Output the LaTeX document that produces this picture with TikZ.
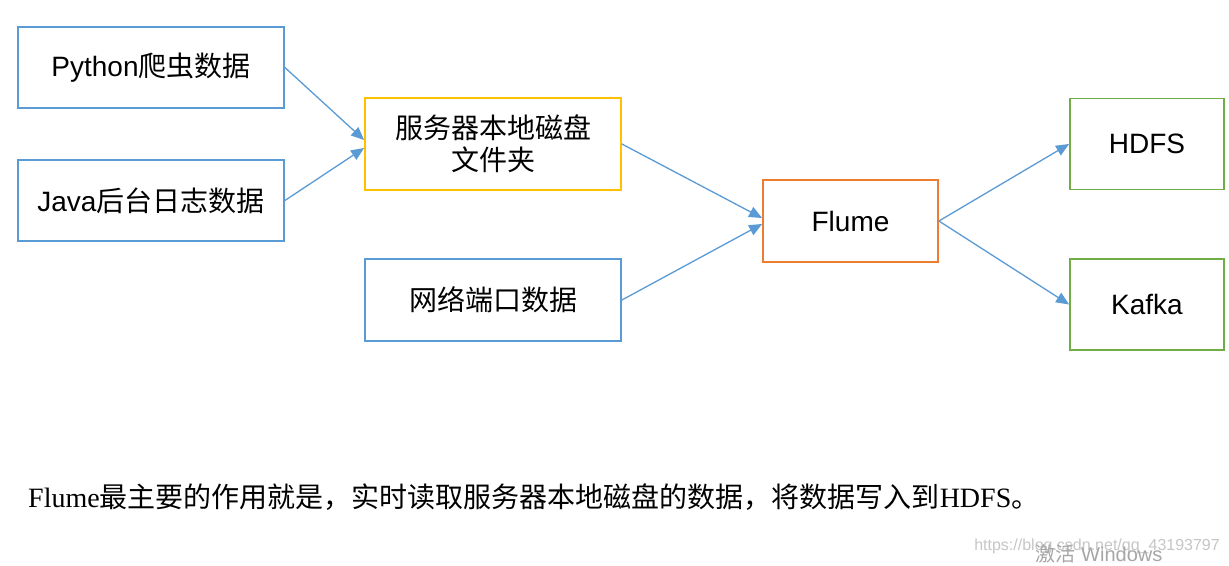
\documentclass[tikz,border=0pt]{standalone}
\usepackage{fontspec}
\setmainfont{Liberation Sans}
\newfontfamily\cjk{Noto Sans CJK SC}
\newfontfamily\serif{Liberation Serif}
\usepackage{xcolor}
\usetikzlibrary{positioning}
\usetikzlibrary{arrows.meta}
\definecolor{boxblue}{RGB}{91,155,213}
\definecolor{boxyellow}{RGB}{255,192,0}
\definecolor{boxorange}{RGB}{237,125,49}
\definecolor{boxgreen}{RGB}{112,173,71}
\tikzstyle{block}=[draw, line width=1.8pt, inner sep=0pt, align=center, font=\fontsize{28}{32}\selectfont]
\tikzstyle{source}=[block, draw=boxblue, minimum width=266pt, minimum height=81pt]
\tikzstyle{store}=[block, minimum width=256pt]
\tikzstyle{sink}=[block, draw=boxgreen, minimum width=154pt, minimum height=91pt]
\tikzstyle{link}=[-{Triangle[length=13pt, width=11pt]}, draw=boxblue, line width=1.3pt]

\begin{document}
\begin{tikzpicture}[x=1pt, y=-1pt]
    \fill[white] (0,0) rectangle (1229,565);
    \useasboundingbox (0,0) rectangle (1229,565);

    \node[source]                                  (python) at (151,67.5)  {Python{\cjk 爬虫数据}};
    \node[source]                                  (java)   at (151,200.5) {Java{\cjk 后台日志数据}};
    \node[store, draw=boxyellow, minimum height=92pt] (disk) at (493,144)  {\cjk 服务器本地磁盘\\\cjk 文件夹};
    \node[store, draw=boxblue, minimum height=82pt]  (net)    at (493,300)   {\cjk 网络端口数据};
    \node[block, draw=boxorange, minimum width=175pt, minimum height=82pt] (flume) at (850.5,221) {Flume};
    \node[sink]                                    (hdfs)   at (1147,144)  {HDFS};
    \node[sink]                                    (kafka)  at (1147,304.5) {Kafka};

    \draw[link] (python.east) to ([yshift=4pt]disk.west);
    \draw[link] (java.east)   to ([yshift=-4pt]disk.west);
    \draw[link] (disk.east)   to ([yshift=3pt]flume.west);
    \draw[link] (net.east)    to ([yshift=-3pt]flume.west);
    \draw[link] (flume.east)  to (hdfs.west);
    \draw[link] (flume.east)  to (kafka.west);

    \node[anchor=west, inner sep=0pt, font=\fontsize{28}{32}\selectfont] (note) at (28,497)
        {{\serif Flume}{\cjk 最主要的作用就是，实时读取服务器本地磁盘的数据，将数据写入到}{\serif HDFS}{\cjk 。}};

    % watermarks
    \node[anchor=east, inner sep=0pt, text=gray!45, font=\fontsize{16}{18}\selectfont] (url) at (1220,546) {https://blog.csdn.net/qq\_43193797};
    \node[inner sep=0pt, text=gray!70, font=\fontsize{20}{22}\selectfont] (win) at (1099,554) {{\cjk 激活} Windows};
\end{tikzpicture}
\end{document}
